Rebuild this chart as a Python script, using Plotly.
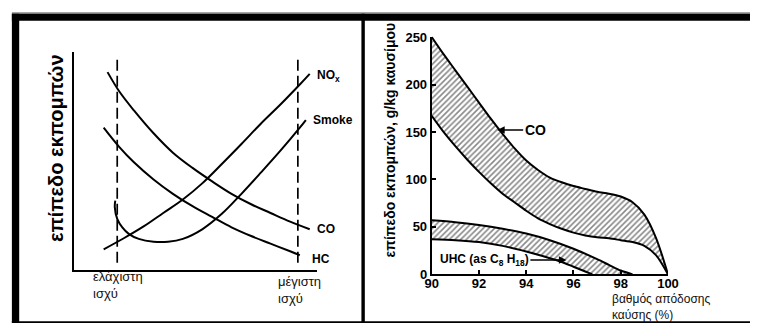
import plotly.graph_objects as go

W, H = 761, 332

# ---------------- left panel data (qualitative, arbitrary 0-100 units) ----------------
co_l_x = [13.7, 18.5, 24.6, 32.7, 40.7, 48.8, 56.9, 64.9, 73.0, 81.0, 89.1, 97.2]
co_l_y = [90.7, 81.9, 73.1, 62.6, 53.7, 46.7, 40.5, 34.8, 30.0, 26.0, 22.0, 18.5]
hc_l_x = [12.1, 18.5, 24.6, 32.7, 40.7, 48.8, 56.9, 64.9, 73.0, 81.0, 89.1, 93.1]
hc_l_y = [65.2, 56.4, 49.3, 41.4, 34.8, 29.1, 24.2, 19.4, 15.4, 11.9, 8.4, 6.6]
nox_l_x = [12.1, 20.6, 28.6, 36.7, 44.8, 52.8, 60.9, 69.0, 77.0, 85.1, 93.1, 97.2]
nox_l_y = [9.3, 14.5, 19.8, 26.0, 32.2, 39.6, 48.5, 57.7, 67.0, 75.8, 85.0, 89.9]
smoke_l_x = [16.9, 16.7, 17.7, 19.8, 22.6, 26.6, 32.7, 38.7, 44.8, 52.8, 60.9, 69.0, 77.0, 85.1, 93.1, 95.6]
smoke_l_y = [31.7, 28.6, 23.3, 19.4, 16.3, 14.1, 12.8, 12.8, 14.1, 18.5, 25.6, 34.8, 44.5, 54.6, 65.2, 68.7]
limit_x = [17.7, 92.3]
limit_y = [3.1, 97.8]

# ---------------- right panel data ----------------
co_x = [90, 90.5, 91, 91.5, 92, 92.5, 93, 93.5, 94, 94.5, 95, 95.5, 96, 96.5, 97, 97.5, 98, 98.5, 99, 99.5, 100]
co_upper = [250, 232, 215, 198, 181, 164, 148, 133, 120, 110, 102, 97, 93, 90, 87, 85, 82, 76, 63, 38, 0]
co_lower = [167, 150, 135, 121, 108, 96, 85, 76, 67, 59, 53, 48, 44, 41, 39, 38, 36, 34, 30, 20, 0]
uhc_upper_x = [90, 91, 92, 93, 94, 95, 96, 97, 97.5, 98, 98.5]
uhc_upper = [57, 55, 52, 48, 43, 36, 27, 16, 10, 4, 0]
uhc_lower_x = [90, 91, 92, 93, 94, 95, 95.5, 96, 96.5, 96.8]
uhc_lower = [37, 36, 34, 30, 24, 17, 13, 8, 3, 0]
x_ticks = [90, 92, 94, 96, 98, 100]
y_ticks = [0, 50, 100, 150, 200, 250]

FONT = "Liberation Sans"


def P(px, py):
    return px / W, 1 - py / H


fig = go.Figure()

line_style = dict(color="black", width=2)

# left panel curves
for xs, ys in [(co_l_x, co_l_y), (hc_l_x, hc_l_y), (nox_l_x, nox_l_y), (smoke_l_x, smoke_l_y)]:
    fig.add_trace(go.Scatter(x=xs, y=ys, mode="lines", line=dict(line_style, shape="spline", smoothing=1.0),
                             xaxis="x", yaxis="y", hoverinfo="skip", showlegend=False))
for lx in limit_x:
    fig.add_trace(go.Scatter(x=[lx, lx], y=limit_y, mode="lines",
                             line=dict(color="black", width=1.7, dash="11px,5px"),
                             xaxis="x", yaxis="y", hoverinfo="skip", showlegend=False))

# right panel bands
pattern = dict(shape="/", size=4, solidity=0.4, fgcolor="#111111", bgcolor="white")
bands = [((co_x, co_lower), (co_x, co_upper)), ((uhc_lower_x, uhc_lower), (uhc_upper_x, uhc_upper))]
for (lx, ly), (ux, uy) in bands:
    fig.add_trace(go.Scatter(x=lx, y=ly, mode="lines", line=dict(line_style, shape="spline", smoothing=0.8),
                             xaxis="x2", yaxis="y2", hoverinfo="skip", showlegend=False))
    fig.add_trace(go.Scatter(x=ux, y=uy, mode="lines", line=dict(line_style, shape="spline", smoothing=0.8),
                             fill="tonexty", fillpattern=pattern, fillcolor="white",
                             xaxis="x2", yaxis="y2", hoverinfo="skip", showlegend=False))

ax_common = dict(showgrid=False, zeroline=False, showline=True, linecolor="black", linewidth=2, fixedrange=True)

fig.update_layout(
    width=W, height=H,
    margin=dict(l=0, r=0, t=0, b=0),
    paper_bgcolor="white", plot_bgcolor="rgba(0,0,0,0)",
    font=dict(family=FONT, color="black"),
    xaxis=dict(ax_common, domain=[69 / W, 317 / W], range=[0, 100], showticklabels=False, ticks="", anchor="y"),
    yaxis=dict(ax_common, domain=[1 - 275 / H, 1 - 47 / H], range=[0, 100], showticklabels=False, ticks="", anchor="x"),
    xaxis2=dict(ax_common, domain=[435 / W, 677 / W], range=[90, 100], anchor="y2",
                tickvals=x_ticks, ticks="inside", ticklen=4, tickwidth=1.5, tickcolor="black",
                ticklabelstandoff=-4,
                tickfont=dict(family=FONT, size=13, color="black", weight="bold")),
    yaxis2=dict(ax_common, domain=[1 - 280 / H, 1 - 31 / H], range=[0, 250.5], anchor="x2",
                tickvals=y_ticks, ticks="inside", ticklen=4, tickwidth=1.5, tickcolor="black",
                tickfont=dict(family=FONT, size=13, color="black", weight="bold")),
)

annotations = []


def text(px, py, s, size=12, bold=True, xanchor="left", angle=0, color="black", align="left"):
    x, y = P(px, py)
    annotations.append(dict(x=x, y=y, xref="paper", yref="paper", text=s, showarrow=False,
                            xanchor=xanchor, yanchor="middle", textangle=angle, align=align, borderpad=0,
                            font=dict(family=FONT, size=size, color=color, weight="bold" if bold else "normal")))


# left panel labels
text(316, 72, "NO<sub>x</sub>", 12)
text(312, 118, "Smoke", 12)
text(316, 233, "CO", 12)
text(311, 264, "HC", 12)
text(51, 148, "επίπεδο εκπομπών", 20, angle=-90, xanchor="center")
text(87, 291, "ελάχιστη<br>ισχύ", 13, bold=False, color="#111")
text(277, 296, "μέγιστη<br>ισχύ", 13, bold=False, color="#111")

# right panel labels
text(392, 139, "επίπεδο εκπομπών, g/kg καυσίμου", 14, angle=-90, xanchor="center")
text(619, 314.5, "βαθμός απόδοσης<br>καύσης (%)", 12, bold=False, color="#111")

# arrowed labels (tip positions in data units)
annotations.append(dict(x=92.77, y=152, xref="x2", yref="y2", text="<b>CO</b>", showarrow=True,
                        ax=38, ay=0, arrowhead=2, arrowsize=1, arrowwidth=1.5, arrowcolor="black",
                        font=dict(family=FONT, size=14, color="black")))
annotations.append(dict(x=95.7, y=15, xref="x2", yref="y2",
                        text="<b>UHC (as C<sub>8</sub> H<sub>18</sub>)</b>", showarrow=True,
                        ax=-82, ay=0, arrowhead=2, arrowsize=1, arrowwidth=1.5, arrowcolor="black",
                        font=dict(family=FONT, size=12, color="black")))

fig.update_layout(annotations=annotations)

# frame of the scanned figure
shapes = []


def rect(x0, y0, x1, y1, color="black"):
    a, b = P(x0, y1)
    c, d = P(x1, y0)
    shapes.append(dict(type="rect", xref="paper", yref="paper", x0=a, y0=b, x1=c, y1=d,
                       fillcolor=color, line=dict(width=0), layer="above"))


rect(5, 5.5, W, 7, "#888888")
rect(5, 7, W, 14.5)
rect(5, 7, 12.5, 331)
rect(363, 7, 366.5, 331)
rect(5, 329, W, 331)
fig.update_layout(shapes=shapes)

fig.write_html("out.html")
